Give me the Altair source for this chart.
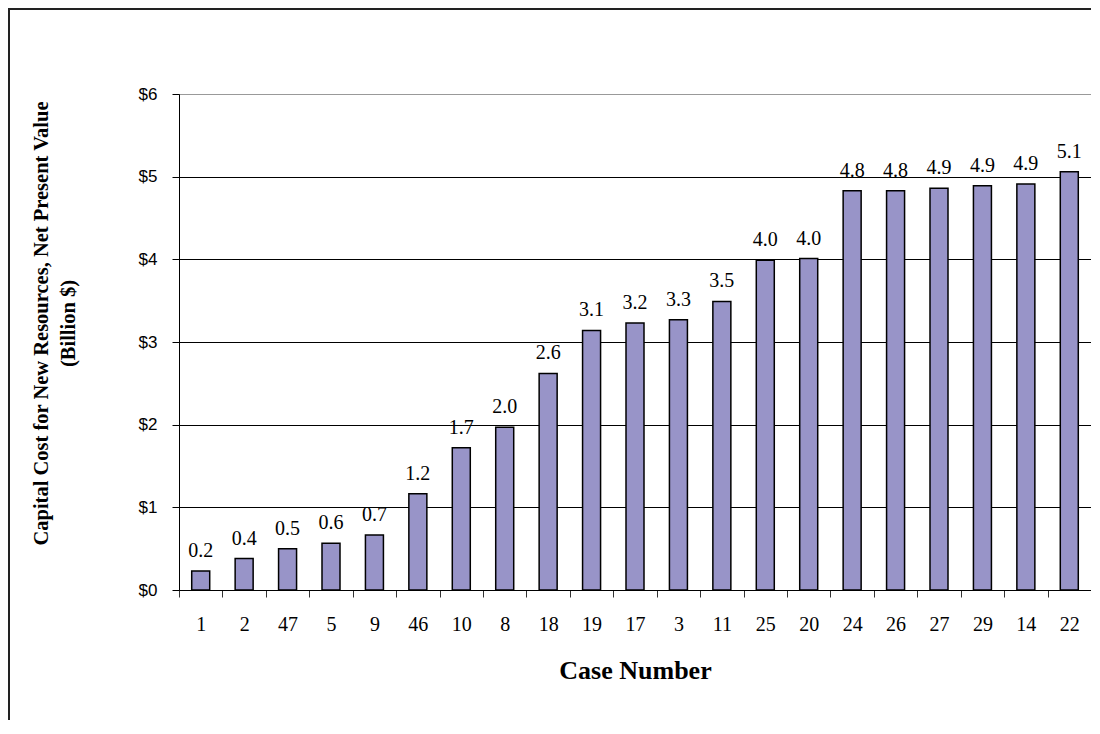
import altair as alt
import pandas as pd

cases = ["1", "2", "47", "5", "9", "46", "10", "8", "18", "19", "17",
         "3", "11", "25", "20", "24", "26", "27", "29", "14", "22"]
values = [0.23, 0.38, 0.50, 0.565, 0.665, 1.165, 1.72, 1.97, 2.62, 3.14, 3.23,
          3.27, 3.49, 3.99, 4.01, 4.83, 4.83, 4.86, 4.89, 4.91, 5.06]
y_ticks = [0, 1, 2, 3, 4, 5, 6]

df = pd.DataFrame({"case": cases, "value": values})

SERIF = "Liberation Serif"
SANS = "Liberation Sans"

x_enc = alt.X(
    "case:N",
    sort=cases,
    scale=alt.Scale(paddingInner=0, paddingOuter=0),
    axis=alt.Axis(
        title="Case Number",
        titleFont=SERIF,
        titleFontSize=26,
        titleFontWeight="bold",
        titleColor="black",
        titleBaseline="alphabetic",
        titleY=88,
        labelAngle=0,
        labelFont=SERIF,
        labelFontSize=20,
        labelColor="black",
        labelPadding=17,
        tickBand="extent",
        tickSize=7,
        tickColor="#333333",
        domainColor="black",
        grid=False,
    ),
)

y_enc = alt.Y(
    "value:Q",
    scale=alt.Scale(domain=[0, 6], nice=False),
    axis=alt.Axis(
        values=y_ticks,
        labelExpr="'$' + datum.value",
        labelFont=SANS,
        labelFontSize=17,
        labelColor="black",
        labelPadding=15,
        tickSize=7,
        tickColor="black",
        domainColor="black",
        gridColor=alt.condition("datum.value == 6", alt.value("#999999"), alt.value("black")),
        gridWidth=1,
        title=["Capital Cost for New Resources, Net Present Value", "(Billion $)"],
        titleFont=SERIF,
        titleFontSize=20.5,
        titleFontWeight="bold",
        titleColor="black",
        titleLineHeight=27,
        titleAngle=270,
        titleAlign="center",
        titleBaseline="bottom",
        titleX=-128,
        titleY=229,
    ),
)

base = alt.Chart(df).encode(x=x_enc, y=y_enc)

bars = base.mark_bar(size=18, color="#9894C8", stroke="black", strokeWidth=1.5)

labels = base.mark_text(
    dy=-14, baseline="alphabetic", font=SERIF, fontSize=20, color="black"
).encode(text=alt.Text("value:Q", format=".1f"))

frame_df = pd.DataFrame({"k": [0]})
frame_left = alt.Chart(frame_df).mark_rule(color="#222222", strokeWidth=2).encode(
    x=alt.value(-170), y=alt.value(-85), y2=alt.value(640)
)
frame_top = alt.Chart(frame_df).mark_rule(color="#222222", strokeWidth=2).encode(
    x=alt.value(-171), x2=alt.value(912), y=alt.value(-85)
)

chart = (
    alt.layer(bars, labels, frame_left, frame_top)
    .properties(
        width=912,
        height=496,
        autosize=alt.AutoSizeParams(type="none"),
        padding={"left": 171, "top": 86, "right": 0, "bottom": 130},
        background="white",
    )
    .configure_view(stroke="#999999", strokeWidth=1)
)

chart.save("out.html", embed_options={"renderer": "svg", "actions": False})
